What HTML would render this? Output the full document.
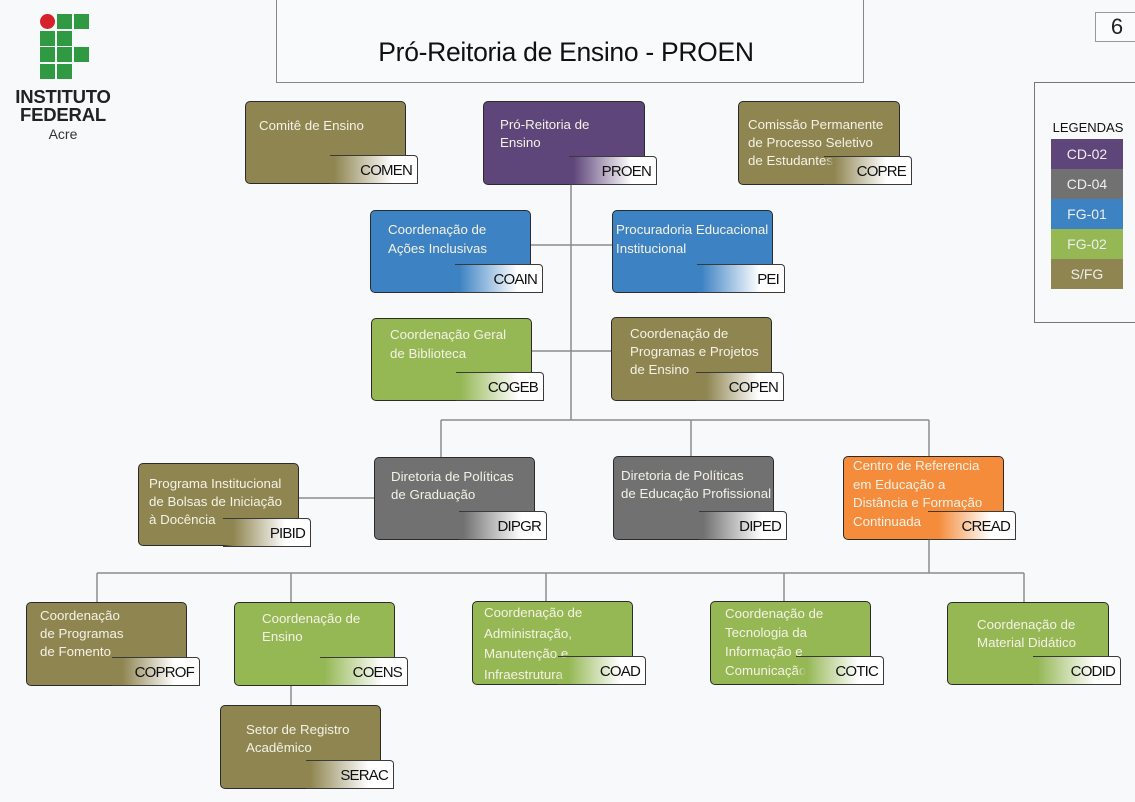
<!DOCTYPE html>
<html><head><meta charset="utf-8">
<style>
html,body{margin:0;padding:0;}
body{width:1135px;height:802px;background:#f8f9fb;position:relative;overflow:hidden;font-family:"Liberation Sans",sans-serif;}
.n{position:absolute;border:1px solid #2b2b2b;border-radius:5px;box-sizing:border-box;}
.t{position:absolute;color:#f4f2e6;font-size:13.3px;white-space:nowrap;}
.g{position:absolute;height:29px;width:88px;box-sizing:border-box;border:1px solid #3a3a3a;border-left:0;border-top-right-radius:4px;font-size:15px;color:#111;text-align:right;padding-right:5px;line-height:30px;letter-spacing:-0.8px;}
.ol{background:#8f8551}.pu{background:#5e457a}.gr{background:#717171}.bl{background:#3d82c3}.gn{background:#95b754}.or{background:#f48c3b}
.lg{position:absolute;left:1051px;width:72px;height:30px;color:#eee;font-size:14px;text-align:center;line-height:30px;}
</style></head><body>

<svg width="1135" height="802" style="position:absolute;left:0;top:0">
<g stroke="#8c8c8c" stroke-width="1.5" fill="none">
<line x1="571" y1="184" x2="571" y2="420"/>
<line x1="530" y1="245" x2="612" y2="245"/>
<line x1="531" y1="351" x2="611" y2="351"/>
<line x1="441" y1="420" x2="929" y2="420"/>
<line x1="441" y1="420" x2="441" y2="457"/>
<line x1="691" y1="420" x2="691" y2="456"/>
<line x1="929" y1="420" x2="929" y2="456"/>
<line x1="298" y1="498" x2="374" y2="498"/>
<line x1="929" y1="539" x2="929" y2="573"/>
<line x1="97" y1="573" x2="1024" y2="573"/>
<line x1="97" y1="573" x2="97" y2="602"/>
<line x1="291" y1="573" x2="291" y2="602"/>
<line x1="546" y1="573" x2="546" y2="601"/>
<line x1="784" y1="573" x2="784" y2="601"/>
<line x1="1024" y1="573" x2="1024" y2="602"/>
<line x1="291" y1="685" x2="291" y2="705"/>
</g>
</svg>

<!-- Logo -->
<div style="position:absolute;left:40px;top:14px;width:15px;height:15px;border-radius:50%;background:#d6202a"></div>
<div style="position:absolute;left:57px;top:14px;width:15px;height:15px;background:#2f9a41"></div>
<div style="position:absolute;left:74px;top:14px;width:15px;height:15px;background:#2f9a41"></div>
<div style="position:absolute;left:40px;top:31px;width:15px;height:15px;background:#2f9a41"></div>
<div style="position:absolute;left:57px;top:31px;width:15px;height:15px;background:#2f9a41"></div>
<div style="position:absolute;left:40px;top:47px;width:15px;height:15px;background:#2f9a41"></div>
<div style="position:absolute;left:57px;top:47px;width:15px;height:15px;background:#2f9a41"></div>
<div style="position:absolute;left:74px;top:47px;width:15px;height:15px;background:#2f9a41"></div>
<div style="position:absolute;left:40px;top:64px;width:15px;height:15px;background:#2f9a41"></div>
<div style="position:absolute;left:57px;top:64px;width:15px;height:15px;background:#2f9a41"></div>
<div style="position:absolute;left:4px;top:88px;width:118px;text-align:center;font-weight:bold;font-size:18.5px;line-height:18px;color:#222;letter-spacing:-0.2px">INSTITUTO<br>FEDERAL</div>
<div style="position:absolute;left:6px;top:126px;width:114px;text-align:center;font-size:14px;color:#333">Acre</div>

<!-- Title -->
<div style="position:absolute;left:276px;top:-2px;width:588px;height:85px;box-sizing:border-box;border:1px solid #888;background:#f9fafc"></div>
<div style="position:absolute;left:272px;top:37px;width:588px;text-align:center;font-size:26.5px;color:#111;letter-spacing:-0.3px">Pró-Reitoria de Ensino - PROEN</div>

<!-- page num -->
<div style="position:absolute;left:1095px;top:12px;width:44px;height:30px;box-sizing:border-box;border:1px solid #999;font-size:22px;line-height:28px;text-align:center;color:#222;background:#fafbfc">6</div>

<!-- Legend -->
<div style="position:absolute;left:1034px;top:82px;width:110px;height:241px;box-sizing:border-box;border:1px solid #777"></div>
<div style="position:absolute;left:1040px;top:120px;width:96px;text-align:center;font-size:13px;color:#111">LEGENDAS</div>
<div class="lg pu" style="top:139px">CD-02</div>
<div class="lg gr" style="top:169px">CD-04</div>
<div class="lg bl" style="top:199px">FG-01</div>
<div class="lg gn" style="top:229px">FG-02</div>
<div class="lg ol" style="top:259px">S/FG</div>

<!-- COMEN -->
<div class="n ol" style="left:245px;top:101px;width:161px;height:83px"></div>
<div class="t" style="left:259px;top:117px;line-height:18px">Comitê de Ensino</div>
<div class="g" style="left:330px;top:155px;background:linear-gradient(to right,#8f8551 5%,#fff 72%)">COMEN</div>

<!-- PROEN -->
<div class="n pu" style="left:483px;top:101px;width:162px;height:84px"></div>
<div class="t" style="left:500px;top:116px;line-height:18px">Pró-Reitoria de<br>Ensino</div>
<div class="g" style="left:569px;top:156px;background:linear-gradient(to right,#5e457a 5%,#fff 72%)">PROEN</div>

<!-- COPRE -->
<div class="n ol" style="left:738px;top:101px;width:162px;height:84px"></div>
<div class="t" style="left:748px;top:116px;line-height:18px">Comissão Permanente<br>de Processo Seletivo<br>de Estudantes</div>
<div class="g" style="left:824px;top:156px;background:linear-gradient(to right,rgba(143,133,81,0) 0%,#8f8551 12%,#fff 72%)">COPRE</div>

<!-- COAIN -->
<div class="n bl" style="left:370px;top:210px;width:161px;height:83px"></div>
<div class="t" style="left:388px;top:220px;line-height:19px">Coordenação de<br>Ações Inclusivas</div>
<div class="g" style="left:455px;top:264px;background:linear-gradient(to right,#3d82c3 5%,#fff 72%)">COAIN</div>

<!-- PEI -->
<div class="n bl" style="left:612px;top:210px;width:161px;height:83px"></div>
<div class="t" style="left:616px;top:220px;line-height:19px">Procuradoria Educacional<br>Institucional</div>
<div class="g" style="left:697px;top:264px;background:linear-gradient(to right,#3d82c3 5%,#fff 72%)">PEI</div>

<!-- COGEB -->
<div class="n gn" style="left:371px;top:318px;width:161px;height:83px"></div>
<div class="t" style="left:390px;top:325px;line-height:19px">Coordenação Geral<br>de Biblioteca</div>
<div class="g" style="left:456px;top:372px;background:linear-gradient(to right,#95b754 5%,#fff 72%)">COGEB</div>

<!-- COPEN -->
<div class="n ol" style="left:611px;top:317px;width:161px;height:84px"></div>
<div class="t" style="left:630px;top:325px;line-height:18px">Coordenação de<br>Programas e Projetos<br>de Ensino</div>
<div class="g" style="left:696px;top:372px;background:linear-gradient(to right,rgba(143,133,81,0) 0%,#8f8551 12%,#fff 72%)">COPEN</div>

<!-- PIBID -->
<div class="n ol" style="left:138px;top:463px;width:161px;height:83px"></div>
<div class="t" style="left:149px;top:475px;line-height:18px">Programa Institucional<br>de Bolsas de Iniciação<br>à Docência</div>
<div class="g" style="left:223px;top:518px;background:linear-gradient(to right,rgba(143,133,81,0) 0%,#8f8551 12%,#fff 72%)">PIBID</div>

<!-- DIPGR -->
<div class="n gr" style="left:374px;top:457px;width:161px;height:83px"></div>
<div class="t" style="left:391px;top:468px;line-height:18px">Diretoria de Políticas<br>de Graduação</div>
<div class="g" style="left:459px;top:511px;background:linear-gradient(to right,#717171 5%,#fff 72%)">DIPGR</div>

<!-- DIPED -->
<div class="n gr" style="left:613px;top:456px;width:161px;height:84px"></div>
<div class="t" style="left:621px;top:467px;line-height:18px">Diretoria de Políticas<br>de Educação Profissional</div>
<div class="g" style="left:699px;top:511px;background:linear-gradient(to right,#717171 5%,#fff 72%)">DIPED</div>

<!-- CREAD -->
<div class="n or" style="left:843px;top:456px;width:161px;height:84px"></div>
<div class="t" style="left:853px;top:457px;line-height:18.5px">Centro de Referencia<br>em Educação a<br>Distância e Formação<br>Continuada</div>
<div class="g" style="left:928px;top:511px;background:linear-gradient(to right,rgba(244,140,59,0) 0%,#f48c3b 12%,#fff 72%)">CREAD</div>

<!-- COPROF -->
<div class="n ol" style="left:26px;top:602px;width:161px;height:84px"></div>
<div class="t" style="left:40px;top:607px;line-height:18px">Coordenação<br>de Programas<br>de Fomento</div>
<div class="g" style="left:112px;top:657px;background:linear-gradient(to right,rgba(143,133,81,0) 0%,#8f8551 12%,#fff 72%)">COPROF</div>

<!-- COENS -->
<div class="n gn" style="left:234px;top:602px;width:161px;height:84px"></div>
<div class="t" style="left:262px;top:610px;line-height:18px">Coordenação de<br>Ensino</div>
<div class="g" style="left:320px;top:657px;background:linear-gradient(to right,#95b754 5%,#fff 72%)">COENS</div>

<!-- SERAC -->
<div class="n ol" style="left:220px;top:705px;width:161px;height:84px"></div>
<div class="t" style="left:246px;top:721px;line-height:18px">Setor de Registro<br>Acadêmico</div>
<div class="g" style="left:306px;top:760px;background:linear-gradient(to right,#8f8551 5%,#fff 72%)">SERAC</div>

<!-- COAD -->
<div class="n gn" style="left:472px;top:601px;width:161px;height:84px"></div>
<div class="t" style="left:484px;top:603px;line-height:20.5px">Coordenação de<br>Administração,<br>Manutenção e<br>Infraestrutura</div>
<div class="g" style="left:558px;top:656px;background:linear-gradient(to right,rgba(149,183,84,0) 0%,#95b754 12%,#fff 72%)">COAD</div>

<!-- COTIC -->
<div class="n gn" style="left:710px;top:601px;width:161px;height:84px"></div>
<div class="t" style="left:725px;top:604px;line-height:19px">Coordenação de<br>Tecnologia da<br>Informação e<br>Comunicação</div>
<div class="g" style="left:796px;top:656px;background:linear-gradient(to right,rgba(149,183,84,0) 0%,#95b754 12%,#fff 72%)">COTIC</div>

<!-- CODID -->
<div class="n gn" style="left:947px;top:602px;width:162px;height:83px"></div>
<div class="t" style="left:977px;top:616px;line-height:18px">Coordenação de<br>Material Didático</div>
<div class="g" style="left:1033px;top:656px;background:linear-gradient(to right,#95b754 5%,#fff 72%)">CODID</div>

</body></html>
